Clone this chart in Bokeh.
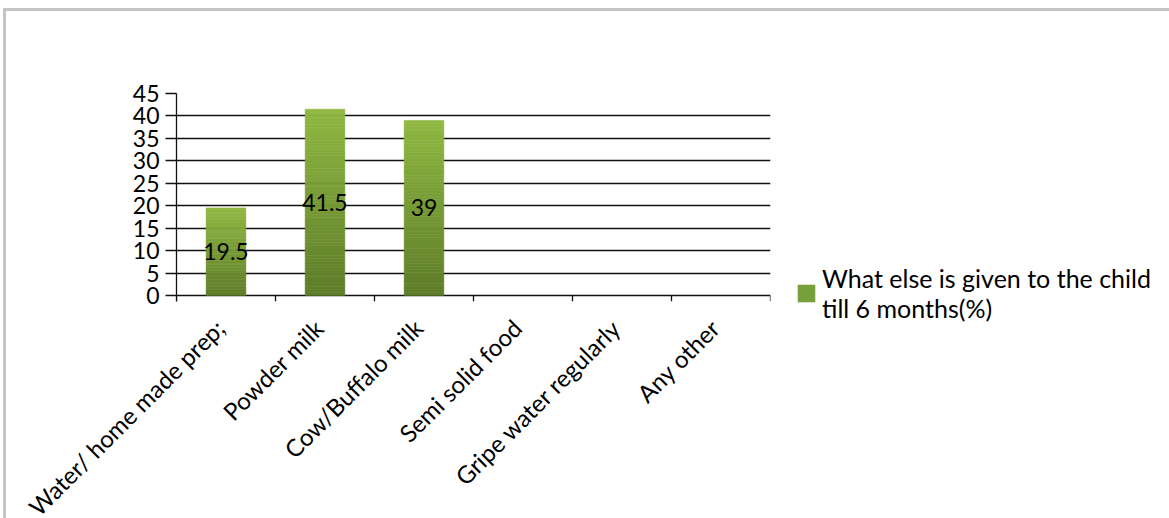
import numpy as np
from bokeh.plotting import figure
from bokeh.models import (Range1d, Legend, LegendItem, FixedTicker,
                          SingleIntervalTicker, ColumnDataSource, LabelSet)
from bokeh.core.properties import value
from bokeh.embed import file_html
from bokeh.resources import INLINE

# Data
categories = ["Water/ home made prep;", "Powder milk", "Cow/Buffalo milk",
              "Semi solid food", "Gripe water regularly", "Any other"]
percent = [19.5, 41.5, 39.0, None, None, None]
series_name = "What else is given to the child\ntill 6 months(%)"
y_max = 45
y_step = 5

FONT = "Lato"
TEXT_SIZE = "23px"
CAT_SIZE = "24px"
LEGEND_SIZE = "25px"
BAR_WIDTH = 0.4
LABEL_SHIFT = -0.06   # nudge of the slanted category labels (in category widths)
TOP_RGB = np.array([144, 184, 66])
BOTTOM_RGB = np.array([93, 124, 40])
TICK_DROP = 1.34  # how far the boundary tick marks hang below zero (data units)

n_cat = len(categories)
centers = [i + 0.5 for i in range(n_cat)]

p = figure(
    x_range=Range1d(0, n_cat),
    y_range=Range1d(-TICK_DROP, y_max),
    frame_width=594, frame_height=208,
    min_border_left=170, min_border_top=82,
    min_border_right=393, min_border_bottom=217,
    output_backend="svg", toolbar_location=None,
    background_fill_color="white", border_fill_color="white",
)
p.styles = {"margin-left": "3px", "margin-top": "8px",
            "border-left": "3px solid #c4c4c4", "border-top": "3px solid #c4c4c4"}
p.outline_line_color = None
p.xgrid.grid_line_color = None
p.ygrid.grid_line_color = "#111111"
p.ygrid.grid_line_width = 1.3
p.ygrid.ticker = SingleIntervalTicker(interval=y_step)

# Gradient-filled bars: each bar is built from thin horizontal slices
N = 60
xs, bots, tops, cols = [], [], [], []
for cx, v in zip(centers, percent):
    if v is None:
        continue
    edges = np.linspace(0, v, N + 1)
    for k in range(N):
        t = (k + 0.5) / N
        r, g, b = (BOTTOM_RGB + (TOP_RGB - BOTTOM_RGB) * t).round().astype(int)
        xs.append(cx)
        bots.append(edges[k])
        tops.append(edges[k + 1])
        cols.append("#%02x%02x%02x" % (r, g, b))
bars = ColumnDataSource(dict(x=xs, bottom=bots, top=tops, color=cols))
p.vbar(x="x", bottom="bottom", top="top", width=BAR_WIDTH, source=bars,
       fill_color="color", line_color="color", line_width=0.6)

# Category boundary tick marks on the x axis
bounds = list(range(n_cat + 1))
p.segment(x0=bounds, y0=[0] * len(bounds), x1=bounds, y1=[-TICK_DROP] * len(bounds),
          line_color="#111111", line_width=1.3)

# Value labels in the middle of each bar
lab_x = [cx for cx, v in zip(centers, percent) if v is not None]
lab_vals = [v for v in percent if v is not None]
labels = ColumnDataSource(dict(
    x=lab_x, y=[v / 2 for v in lab_vals],
    text=[("%g" % v) for v in lab_vals]))
p.add_layout(LabelSet(x="x", y="y", text="text", source=labels,
                      text_align="center", text_baseline="middle",
                      text_font=value(FONT), text_font_size=value(TEXT_SIZE),
                      text_color="#000000"))

# Axes
p.yaxis.ticker = SingleIntervalTicker(interval=y_step)
p.yaxis.minor_tick_line_color = None
p.yaxis.major_tick_out = 11
p.yaxis.major_tick_in = 0
p.yaxis.major_tick_line_width = 1.3
p.yaxis.major_tick_line_color = "#111111"
p.yaxis.axis_line_width = 1.3
p.yaxis.axis_line_color = "#111111"
p.yaxis.major_label_standoff = 6
p.yaxis.major_label_text_font = FONT
p.yaxis.major_label_text_font_size = TEXT_SIZE
p.yaxis.major_label_text_color = "#000000"

label_ticks = [round(c + LABEL_SHIFT, 3) for c in centers]
p.xaxis.ticker = FixedTicker(ticks=label_ticks)
p.xaxis.major_label_overrides = {t: c for t, c in zip(label_ticks, categories)}
p.xaxis.axis_line_color = None
p.xaxis.major_tick_line_color = None
p.xaxis.minor_tick_line_color = None
p.xaxis.major_label_orientation = np.pi / 4
p.xaxis.major_label_standoff = 16
p.xaxis.major_label_text_font = FONT
p.xaxis.major_label_text_font_size = CAT_SIZE
p.xaxis.major_label_text_color = "#000000"

# Legend (its swatch renderer has zero height, so it draws nothing in the plot)
proxy = p.vbar(x=[centers[0]], bottom=[0], top=[0], width=BAR_WIDTH,
               fill_color="#76a03a", line_color="#76a03a", line_alpha=0)
legend = Legend(items=[LegendItem(label=series_name, renderers=[proxy])],
                location=(25, -22), orientation="vertical",
                background_fill_alpha=0, border_line_color=None,
                padding=0, margin=0, glyph_width=22, glyph_height=22,
                label_standoff=5, label_text_font=FONT, label_text_font_size=LEGEND_SIZE,
                label_text_color="#000000", label_text_line_height=1.05)
p.add_layout(legend, "right")

open("out.html", "w").write(file_html(p, INLINE))
